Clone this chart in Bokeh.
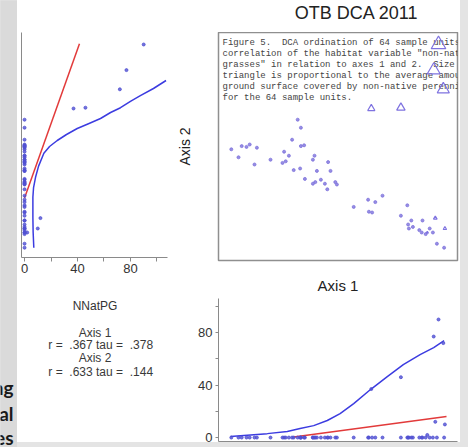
from bokeh.plotting import figure
from bokeh.layouts import row, column
from bokeh.models import FixedTicker, GlobalInlineStyleSheet, Range1d, Title
from bokeh.core.properties import value
from bokeh.embed import file_html
from bokeh.resources import INLINE

# ---------------- data ----------------
# DCA scores (axis 1, axis 2) of the sample units and their NNatPG cover
axis1 = [16, 25, 29, 35, 39, 48, 45, 65, 82, 80, 84, 88, 92, 103, 107, 94, 102, 118, 120, 123,
         108, 118, 121, 128, 133, 137, 140, 136, 146, 148, 169, 187, 196, 205, 188, 192, 228, 236, 241, 237,
         243, 238, 255, 271, 251, 254, 259, 261, 264, 268, 283, 273, 282, 99, 103, 275, 269, 281, 228, 191]
axis2 = [139, 129, 143, 142, 145, 141, 120, 126, 136, 122, 124, 131, 151, 143, 144, 113, 115, 126, 131, 112,
         102, 96, 98, 101, 96, 123, 112, 89, 98, 95, 67, 76, 73, 81, 61, 60, 56, 69, 50, 45,
         42, 40, 50, 53, 38, 35, 33, 35, 40, 35, 40, 21, 16, 176, 166, 270, 238, 214, 191, 190]
nnatpg = [0, 0, 0, 0, 0, 0, 0, 0, 0, 0, 0, 0, 0, 0, 0, 0, 0, 0, 0, 0,
          0, 0, 0, 0, 0, 0, 0, 0, 0, 0, 0, 0, 0, 0, 0, 0, 0, 0, 0, 0,
          0, 0, 0, 12, 0, 0, 0, 2, 0, 0, 10, 0, 0, 0, 0, 90, 77, 72, 46, 37]

# fitted curves
left_smooth_x = [7.0, 6.5, 6.3, 6.3, 6.8, 8.3, 10.6, 14.6, 18.9, 24.7, 31.7, 39.8, 48.3, 57.4,
                 65.0, 72.5, 80.0, 87.5, 97.4, 106.9]
left_smooth_y = [16, 35, 54, 79, 91, 104, 118, 134, 142.5, 150, 157.5, 165, 171, 177.5,
                 185, 191, 199, 206, 215, 225]
left_linear_x = [0, 41.5]
left_linear_y = [78, 271]
bottom_smooth_x = [15, 61, 86, 102, 119, 136, 152, 169, 190, 211, 231, 252, 269, 282]
bottom_smooth_y = [0.8, 3.0, 4.6, 6.9, 9.1, 13.0, 18.3, 25.9, 36.6, 46.5, 55.6, 63.2, 68.6, 73.9]
bottom_linear_x = [94, 285]
bottom_linear_y = [0.5, 16]

nnat_ticks = [0, 40, 80]
nnat_minor = [20, 60, 100]

NB = "\u00a0"
x_title = "NNatPG"
stat_lines = ["Axis 1", "r =" + NB + " .367 tau =" + NB + " .378",
              "Axis 2", "r =" + NB + " .633 tau =" + NB + " .144"]
caption_lines = [
    "Figure 5." + NB + " DCA ordination of 64 sample units showing the",
    "correlation of the habitat variable \"non-native perennial",
    "grasses\" in relation to axes 1 and 2." + NB + " Size of each",
    "triangle is proportional to the average amount of",
    "ground surface covered by non-native perennial grasses",
    "for the 64 sample units.",
]
main_title = "OTB DCA 2011"
bottom_title = "Axis 1"
slide_words = ["ng", "al", "es"]

# ---------------- styles ----------------
FONT = "Liberation Sans"
BLUE = "#3c3ce0"
RED = "#e23a3a"
DOT = "#5050d2"
DCA_DOT = "#7d72dc"
AXIS_C = "#8a8a8a"
TXT = "#333333"

zero_idx = [i for i, v in enumerate(nnatpg) if v == 0]
pos_idx = [i for i, v in enumerate(nnatpg) if v > 0]


def base(width, height, xr, yr, l, r, t, b):
    p = figure(width=width, height=height, x_range=xr, y_range=yr, title=None,
               toolbar_location=None, output_backend="svg",
               min_border_left=l, min_border_right=r, min_border_top=t, min_border_bottom=b)
    p.grid.visible = False
    p.outline_line_color = None
    p.background_fill_color = "white"
    p.border_fill_color = "white"
    return p


def blank(width, height, fill="white"):
    p = figure(width=width, height=height, x_range=Range1d(0, width), y_range=Range1d(height, 0),
               title=None, toolbar_location=None, output_backend="svg", min_border=0)
    p.axis.visible = False
    p.grid.visible = False
    p.outline_line_color = None
    p.background_fill_color = fill
    p.border_fill_color = fill
    return p


# ---- left strip (slide background with cut-off words) ----
strip = blank(17, 447, fill="#dadada")
strip.text(x=[13, 13, 13], y=[387, 413, 437], text=slide_words, text_align="right",
           text_baseline="alphabetic", text_font=value("Lato"), text_font_style="bold",
           text_font_size="19px", text_color="#1a1a1a")

# ---- left panel: Axis 2 vs NNatPG ----
lp = base(153, 280, Range1d(-2.3, 108), Range1d(3.75, 285), 4, 3, 32, 23)
lp.yaxis.ticker = FixedTicker(ticks=[])
lp.yaxis.major_tick_out = 0
lp.yaxis.major_tick_in = 0
lp.yaxis.minor_tick_out = 0
lp.yaxis.major_label_standoff = 0
lp.yaxis.major_label_text_font_size = "0px"
lp.yaxis.axis_line_color = AXIS_C
lp.xaxis.ticker = FixedTicker(ticks=nnat_ticks, minor_ticks=nnat_minor)
lp.xaxis.axis_line_color = AXIS_C
lp.xaxis.major_tick_line_color = AXIS_C
lp.xaxis.minor_tick_line_color = AXIS_C
lp.xaxis.major_tick_out = 4
lp.xaxis.major_tick_in = 0
lp.xaxis.minor_tick_out = 4
lp.xaxis.minor_tick_in = 0
lp.xaxis.major_label_standoff = 2
lp.xaxis.major_label_text_font = FONT
lp.xaxis.major_label_text_font_size = "13px"
lp.xaxis.major_label_text_color = TXT
lp.line(left_linear_x, left_linear_y, line_color=RED, line_width=1.5)
lp.line(left_smooth_x, left_smooth_y, line_color=BLUE, line_width=1.5)
lp.scatter(nnatpg, axis2, size=3, color=DOT, alpha=0.8)

# ---- texts under the left panel ----
lt = blank(153, 162)
lt.text(x=[77], y=[25], text=[x_title], text_align="center", text_baseline="middle",
        text_font=value(FONT), text_font_size="12px", text_color=TXT)
lt.text(x=[77, 83, 77, 83], y=[52, 64, 77, 91], text=stat_lines, text_align="center",
        text_baseline="middle", text_font=value(FONT), text_font_size="12px", text_color="#3a3a3a")

# ---- header with the main title ----
hdr = blank(290, 32)
hdr.text(x=[167.5], y=[12.5], text=[main_title], text_align="center", text_baseline="middle",
         text_font=value(FONT), text_font_size="18px", text_color="#222222")

# ---- DCA ordination ----
dca = base(290, 237, Range1d(0, 298.75), Range1d(0, 285), 48, 3, 0, 9)
dca.outline_line_color = "#8f8f8f"
dca.outline_line_width = 1.5
dca.xaxis.visible = False
dca.yaxis.ticker = FixedTicker(ticks=[])
dca.yaxis.axis_line_color = None
dca.yaxis.major_tick_out = 0
dca.yaxis.major_label_standoff = 0
dca.yaxis.major_label_text_font_size = "0px"
dca.yaxis.axis_label = "Axis 2"
dca.yaxis.axis_label_text_font = FONT
dca.yaxis.axis_label_text_font_size = "14px"
dca.yaxis.axis_label_text_font_style = "normal"
dca.yaxis.axis_label_text_color = "#222222"
dca.yaxis.axis_label_standoff = 26
cap_y0 = 272.5
cap_step = 13.9
dca.text(x=[5] * len(caption_lines), y=[cap_y0 - k * cap_step for k in range(len(caption_lines))],
         text=caption_lines, text_font=value("Liberation Mono"), text_font_size="9px",
         text_baseline="middle", text_color="#444444")
dca.scatter([axis1[i] for i in zero_idx], [axis2[i] for i in zero_idx], size=3, color=DCA_DOT, alpha=0.8)
dca.scatter([axis1[i] for i in pos_idx], [axis2[i] for i in pos_idx], marker="triangle",
            size=[0.14 * nnatpg[i] + 2 for i in pos_idx], fill_color=None,
            line_color="#7f73e0", line_width=1.2)

# ---- bottom panel: NNatPG vs Axis 1 ----
bp = base(290, 173, Range1d(0, 298.75), Range1d(-3, 106), 48, 3, 29, 1)
bp.xaxis.ticker = FixedTicker(ticks=[])
bp.xaxis.major_tick_out = 0
bp.xaxis.major_tick_in = 0
bp.xaxis.major_label_standoff = 0
bp.xaxis.major_label_text_font_size = "0px"
bp.xaxis.axis_line_color = AXIS_C
bp.yaxis.ticker = FixedTicker(ticks=nnat_ticks, minor_ticks=nnat_minor)
bp.yaxis.axis_line_color = AXIS_C
bp.yaxis.major_tick_line_color = AXIS_C
bp.yaxis.minor_tick_line_color = AXIS_C
bp.yaxis.major_tick_out = 3
bp.yaxis.major_tick_in = 0
bp.yaxis.minor_tick_out = 3
bp.yaxis.minor_tick_in = 0
bp.yaxis.major_label_standoff = 3
bp.yaxis.major_label_text_font = FONT
bp.yaxis.major_label_text_font_size = "13px"
bp.yaxis.major_label_text_color = TXT
bp.add_layout(Title(text=bottom_title, align="center", text_font=FONT, text_font_size="15px",
                    text_font_style="normal", text_color="#222222", standoff=10), "above")
bp.line(bottom_linear_x, bottom_linear_y, line_color=RED, line_width=1.5)
bp.line(bottom_smooth_x, bottom_smooth_y, line_color=BLUE, line_width=1.5)
bp.scatter(axis1, nnatpg, size=3, color=DOT, alpha=0.8)

WHITE = {"background-color": "white"}
left_col = column(lp, lt, styles=WHITE)
right_col = column(hdr, dca, bp, styles=WHITE)
body_row = row(left_col, right_col, styles=WHITE)
layout = row(strip, body_row,
             stylesheets=[GlobalInlineStyleSheet(css="html, body { margin: 0; padding: 0; background: #e4e4e4; }")])

open("out.html", "w").write(file_html(layout, INLINE))
